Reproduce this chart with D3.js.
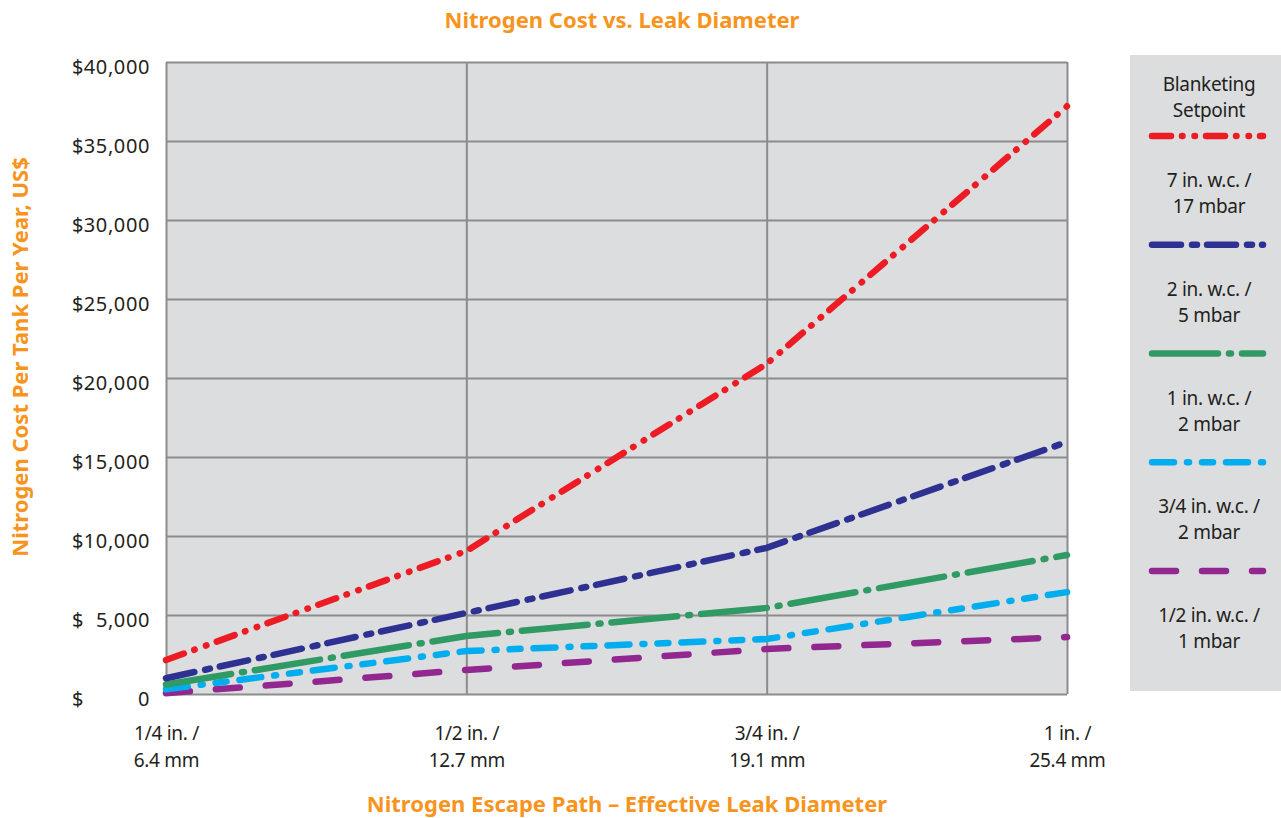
<!DOCTYPE html>
<html>
<head>
<meta charset="utf-8">
<script src="https://cdn.jsdelivr.net/npm/d3@7"></script>
<style>
  body { margin: 0; background: #fff; }
  text { font-family: "Noto Sans", sans-serif; }
</style>
</head>
<body>
<div id="chart"></div>
<script>
// data
let diameters = ['1/4 in. /|6.4 mm', '1/2 in. /|12.7 mm', '3/4 in. /|19.1 mm', '1 in. /|25.4 mm']
let yTicks = [0, 5000, 10000, 15000, 20000, 25000, 30000, 35000, 40000]

let setpoints = ['7 in. w.c. /|17 mbar', '2 in. w.c. /|5 mbar', '1 in. w.c. /|2 mbar', '3/4 in. w.c. /|2 mbar', '1/2 in. w.c. /|1 mbar']
let cost7 = [2150, 9050, 20900, 37200]
let cost2 = [1000, 5130, 9250, 15950]
let cost1 = [600, 3670, 5450, 8800]
let cost34 = [300, 2720, 3480, 6450]
let cost12 = [50, 1520, 2850, 3600]

let colors = ['#ed1c24', '#2e3192', '#2f9a63', '#00aeef', '#92278f']
let dashes = ['19,11,0.5,12,0.5,11', '29,11,5,10', '66,11,2,11', '22,13,2,13,11,13', '24,26']

let series = [cost7, cost2, cost1, cost34, cost12]

let width = 1281, height = 818
let plotLeft = 166, plotRight = 1067, plotTop = 62, plotBottom = 694
let orange = '#f7941d'
let ink = '#231f20'

let svg = d3.select('#chart').append('svg')
    .attr('width', width)
    .attr('height', height)

let xScale = d3.scalePoint().domain(diameters).range([plotLeft, plotRight])
let yScale = d3.scaleLinear().domain([0, 40000]).range([plotBottom, plotTop])

// plot background
svg.append('rect')
    .attr('x', plotLeft)
    .attr('y', plotTop)
    .attr('width', plotRight - plotLeft)
    .attr('height', plotBottom - plotTop)
    .attr('fill', '#dcdddf')

// grid
svg.append('g')
    .attr('class', 'grid')
    .attr('transform', 'translate(' + plotLeft + ',0)')
    .call(d3.axisLeft(yScale).tickValues(yTicks).tickSize(-(plotRight - plotLeft)).tickFormat(''))

svg.append('g')
    .attr('class', 'grid')
    .attr('transform', 'translate(0,' + plotTop + ')')
    .call(d3.axisBottom(xScale).tickSize(plotBottom - plotTop).tickFormat(''))

svg.selectAll('.grid line').attr('stroke', '#8c8c8e').attr('stroke-width', 2)
svg.selectAll('.grid .domain').remove()

// y axis labels
let yAxis = svg.append('g')
    .attr('transform', 'translate(150,0)')
    .call(d3.axisLeft(yScale).tickValues(yTicks).tickSize(0).tickPadding(0)
        .tickFormat(function(d){ return d3.format(',')(d) }))
yAxis.select('.domain').remove()
yAxis.attr('font-size', null).attr('font-family', null)
yAxis.selectAll('text')
    .attr('font-size', 20)
    .attr('letter-spacing', 0.6)
    .attr('fill', ink)
    .attr('dy', '0.7em')
    .attr('y', -3)

yAxis.selectAll('.tick').append('text')
    .attr('x', -78)
    .attr('y', -3)
    .attr('dy', '0.7em')
    .attr('text-anchor', 'start')
    .attr('font-size', 20)
    .attr('fill', ink)
    .text('$')

// x axis labels
let xAxis = svg.append('g')
    .attr('transform', 'translate(0,' + plotBottom + ')')
    .call(d3.axisBottom(xScale).tickSize(0).tickFormat(''))
xAxis.select('.domain').remove()
xAxis.selectAll('.tick').append('text')
    .attr('text-anchor', 'middle')
    .attr('font-size', 19)
    .attr('letter-spacing', -0.3)
    .attr('fill', ink)
    .each(function(d){
        let parts = d.split('|')
        d3.select(this).append('tspan').attr('x', 0).attr('y', 46).text(parts[0])
        d3.select(this).append('tspan').attr('x', 0).attr('y', 73).text(parts[1])
    })

// lines
let line = d3.line()
    .x(function(d, i){ return xScale(diameters[i]) })
    .y(function(d){ return yScale(d) })

series.slice().reverse().forEach(function(s, j){
    let i = series.length - 1 - j
    svg.append('path')
        .datum(s)
        .attr('d', line)
        .attr('fill', 'none')
        .attr('stroke', colors[i])
        .attr('stroke-width', 6.5)
        .attr('stroke-linecap', 'round')
        .attr('stroke-dasharray', dashes[i])
})

// titles
svg.append('text')
    .attr('x', 622)
    .attr('y', 28)
    .attr('text-anchor', 'middle')
    .attr('font-size', 22)
    .attr('font-weight', 'bold')
    .attr('fill', orange)
    .text('Nitrogen Cost vs. Leak Diameter')

svg.append('text')
    .attr('x', 627)
    .attr('y', 812)
    .attr('text-anchor', 'middle')
    .attr('font-size', 22)
    .attr('font-weight', 'bold')
    .attr('fill', orange)
    .text('Nitrogen Escape Path – Effective Leak Diameter')

svg.append('text')
    .attr('transform', 'translate(28,357) rotate(-90)')
    .attr('text-anchor', 'middle')
    .attr('font-size', 22)
    .attr('font-weight', 'bold')
    .attr('fill', orange)
    .text('Nitrogen Cost Per Tank Per Year, US$')

// legend
let legend = svg.append('g')
legend.append('rect')
    .attr('x', 1130)
    .attr('y', 55)
    .attr('width', 151)
    .attr('height', 636)
    .attr('fill', '#dcdddf')

let legendX = 1209
legend.append('text')
    .attr('x', legendX)
    .attr('text-anchor', 'middle')
    .attr('font-size', 19)
    .attr('letter-spacing', -0.3)
    .attr('fill', ink)
    .each(function(){
        d3.select(this).append('tspan').attr('x', legendX).attr('y', 91).text('Blanketing')
        d3.select(this).append('tspan').attr('x', legendX).attr('y', 117).text('Setpoint')
    })

let legendScale = d3.scaleLinear().domain([0, setpoints.length - 1]).range([136, 571])

setpoints.forEach(function(name, i){
    let ly = legendScale(i)
    legend.append('line')
        .attr('x1', 1152)
        .attr('x2', 1263)
        .attr('y1', ly)
        .attr('y2', ly)
        .attr('stroke', colors[i])
        .attr('stroke-width', 6.5)
        .attr('stroke-linecap', 'round')
        .attr('stroke-dasharray', dashes[i])

    let parts = name.split('|')
    let t = legend.append('text')
        .attr('text-anchor', 'middle')
        .attr('font-size', 19)
        .attr('letter-spacing', -0.3)
        .attr('fill', ink)
    t.append('tspan').attr('x', legendX).attr('y', ly + 51).text(parts[0])
    t.append('tspan').attr('x', legendX).attr('y', ly + 77).text(parts[1])
})
</script>
</body>
</html>
